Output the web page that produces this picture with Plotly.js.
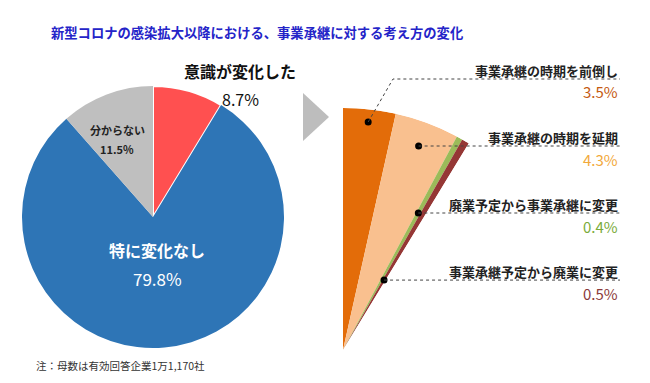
<!DOCTYPE html>
<html><head><meta charset="utf-8">
<script src="https://cdn.plot.ly/plotly-3.0.1.min.js"></script>
<style>html,body{margin:0;padding:0;background:#fff}#chart{width:650px;height:383px}</style>
</head><body><div id="chart"></div>
<script>
// ---- data ----
const mainLabels = ['意識が変化した', '特に変化なし', '分からない'];
const mainValues = [8.7, 79.8, 11.5];
const mainColors = ['#FF5050', '#2E75B6', '#BFBFBF'];

const detailLabels = ['事業承継の時期を前倒し', '事業承継の時期を延期', '廃業予定から事業承継に変更', '事業承継予定から廃業に変更'];
const detailValues = [3.5, 4.3, 0.4, 0.5];
const detailColors = ['#E36C09', '#F9C08F', '#9BBB59', '#953735'];
const detailTextColors = ['#C55A11', '#F2A93B', '#7AAB3A', '#8B3A3A'];

const titleText = '新型コロナの感染拡大以降における、事業承継に対する考え方の変化';
const noteText = '注：母数は有効回答企業1万1,170社';

// ---- helpers ----
const W = 650, H = 383;
const px = x => x / W, py = y => 1 - y / H;
const FONT = '"Noto Sans CJK JP", "Noto Sans", sans-serif';

// left pie geometry
const pieC = [153, 217], pieR = 131;
// right wedge geometry
const apex = [343, 350], R = 242;
const total = detailValues.reduce((a, b) => a + b, 0);
const spanDeg = total * 3.6;
const wedgeW = R * Math.sin(spanDeg * Math.PI / 180);

// bar polar thetas
let cum = 0;
const thetas = [], widths = [];
detailValues.forEach(v => { thetas.push((cum + v / 2) * 3.6); widths.push(v * 3.6); cum += v; });

// leader dot radii (fraction of radius)
const dotR = [0.948, 0.899, 0.646, 0.335];
const dots = thetas.map((t, i) => {
  const a = t * Math.PI / 180;
  return [apex[0] + dotR[i] * R * Math.sin(a), apex[1] - dotR[i] * R * Math.cos(a)];
});
const lineEndX = 620;
const leaderY = dots.map(d => d[1]);
leaderY[0] = 79;

const traces = [
  {
    type: 'pie', values: mainValues, labels: mainLabels, sort: false, direction: 'clockwise', rotation: 0,
    marker: { colors: mainColors, line: { color: '#ffffff', width: [2, 0, 0] } },
    textinfo: 'none', hoverinfo: 'label+percent', showlegend: false,
    domain: { x: [px(pieC[0] - pieR), px(pieC[0] + pieR)], y: [py(pieC[1] + pieR), py(pieC[1] - pieR)] }
  },
  {
    type: 'barpolar', r: detailValues.map(() => 1), theta: thetas, width: widths,
    marker: { color: detailColors, line: { width: 0 } }, showlegend: false, text: detailLabels, hoverinfo: 'text'
  },
  {
    type: 'scatterpolar', mode: 'markers', r: dotR, theta: thetas,
    marker: { color: '#000', size: 7 }, showlegend: false, hoverinfo: 'skip'
  }
];

const shapes = [];
dots.forEach((d, i) => {
  let path;
  if (leaderY[i] !== d[1]) {
    path = `M ${px(d[0])} ${py(d[1])} L ${px(393)} ${py(leaderY[i])} L ${px(lineEndX)} ${py(leaderY[i])}`;
  } else {
    path = `M ${px(d[0])} ${py(d[1])} L ${px(lineEndX)} ${py(leaderY[i])}`;
  }
  shapes.push({ type: 'path', xref: 'paper', yref: 'paper', path: path, line: { color: '#444', width: 1, dash: 'dot' } });
});
shapes.push({ type: 'path', xref: 'paper', yref: 'paper',
  path: `M ${px(303)} ${py(93)} L ${px(329)} ${py(117)} L ${px(303)} ${py(141)} Z`,
  fillcolor: '#BDBDBD', line: { width: 0 } });

const annotations = [];
function ann(text, x, y, size, color, xanchor) {
  annotations.push({ text: text, x: px(x), y: py(y), xref: 'paper', yref: 'paper', showarrow: false,
    xanchor: xanchor || 'center', yanchor: 'middle', font: { family: FONT, size: size, color: color } });
}
ann('<b>' + titleText + '</b>', 257, 33, 13.3, '#2424C8');
ann(noteText, 34, 365, 10.5, '#333', 'left');
ann('<b>' + mainLabels[0] + '</b>', 240, 71, 16, '#111');
ann(mainValues[0].toFixed(1) + '%', 240, 99, 16, '#111');
ann('<b>' + mainLabels[1] + '</b>', 157, 250, 16, '#fff');
ann(mainValues[1].toFixed(1) + '%', 157, 278, 17, '#fff');
ann('<b>' + mainLabels[2] + '</b>', 117, 130, 11, '#222');
ann('<b>' + mainValues[2].toFixed(1) + '%</b>', 117, 149, 11, '#222');
detailLabels.forEach((lab, i) => {
  ann('<b>' + lab + '</b>', lineEndX, leaderY[i] - 9, 13, '#222', 'right');
  ann(detailValues[i].toFixed(1) + '%', lineEndX, leaderY[i] + 13, 15, detailTextColors[i], 'right');
});

const layout = {
  width: W, height: H, margin: { l: 0, r: 0, t: 0, b: 0 }, paper_bgcolor: '#fff', showlegend: false,
  polar: {
    domain: { x: [px(apex[0]), px(apex[0] + wedgeW)], y: [py(apex[1]), py(apex[1] - R)] },
    sector: [90 - spanDeg, 90], hole: 0, bgcolor: 'rgba(0,0,0,0)',
    radialaxis: { visible: false, range: [0, 1] },
    angularaxis: { visible: false, rotation: 90, direction: 'clockwise' }
  },
  shapes: shapes, annotations: annotations
};
Plotly.newPlot('chart', traces, layout, { displayModeBar: false, staticPlot: true });
</script></body></html>
